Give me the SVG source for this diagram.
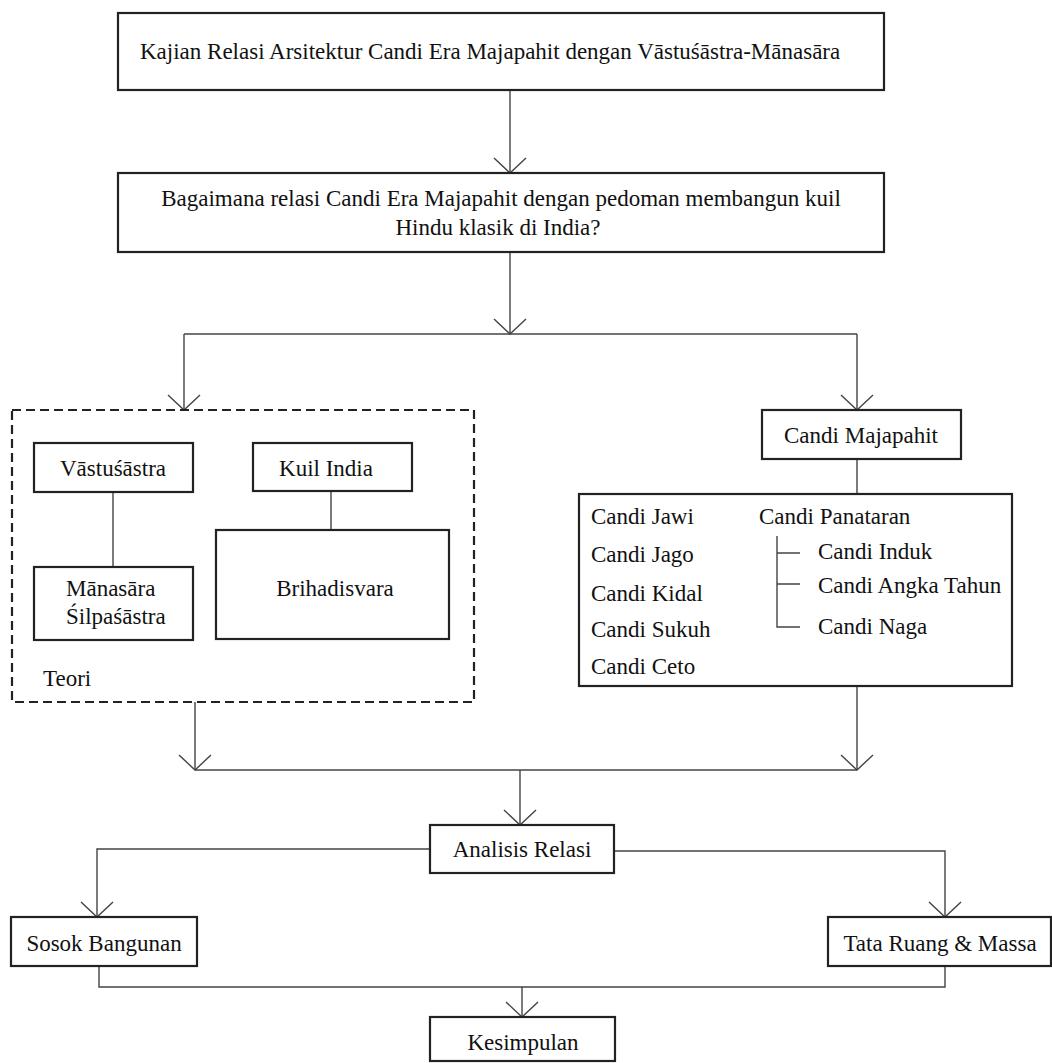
<svg xmlns="http://www.w3.org/2000/svg" width="1052" height="1063" viewBox="0 0 1052 1063">
<defs>
<style>
.t{font-family:"Liberation Serif","DejaVu Serif",serif;font-size:23px;fill:#111}
.box{fill:#fff;stroke:#222;stroke-width:2.2}
.dash{fill:none;stroke:#222;stroke-width:2.2;stroke-dasharray:9 5}
.c{fill:none;stroke:#444;stroke-width:1.4}
.m{text-anchor:middle}
</style>
<marker id="v" viewBox="-20 -20 40 40" markerUnits="userSpaceOnUse" markerWidth="40" markerHeight="40" refX="0" refY="0" orient="auto">
<path d="M-15,-16 L0,0 L-15,16" fill="none" stroke="#444" stroke-width="1.4"/>
</marker>
</defs>
<rect width="1052" height="1063" fill="#fff"/>
<g id="connectors">
<path class="c" d="M510,90 V173" marker-end="url(#v)"/>
<path class="c" d="M510,252 V334" marker-end="url(#v)"/>
<path class="c" d="M184,334 H857"/>
<path class="c" d="M184,334 V410" marker-end="url(#v)"/>
<path class="c" d="M857,334 V410" marker-end="url(#v)"/>
<path class="c" d="M113,492 V567"/>
<path class="c" d="M331,491 V530"/>
<path class="c" d="M857,459 V494"/>
<path class="c" d="M195,702 V770" marker-end="url(#v)"/>
<path class="c" d="M857,686 V770" marker-end="url(#v)"/>
<path class="c" d="M195,770 H857"/>
<path class="c" d="M520,770 V825" marker-end="url(#v)"/>
<path class="c" d="M430,849 H97 V917" marker-end="url(#v)"/>
<path class="c" d="M614,851 H945 V917" marker-end="url(#v)"/>
<path class="c" d="M99,966 V987 H945 V966"/>
<path class="c" d="M522,987 V1017" marker-end="url(#v)"/>
</g>
<g class="t" font-family="Liberation Serif, DejaVu Serif, serif">
<g id="title"><rect class="box" x="118" y="13" width="766" height="77"/><text x="140" y="59">Kajian Relasi Arsitektur Candi Era Majapahit dengan Vāstuśāstra-Mānasāra</text></g>
<g id="question"><rect class="box" x="118" y="173" width="766" height="79"/><text class="m" x="501" y="206">Bagaimana relasi Candi Era Majapahit dengan pedoman membangun kuil</text><text class="m" x="498" y="235">Hindu klasik di India?</text></g>
<g id="teori"><rect class="dash" x="12" y="410" width="462" height="292"/><text x="43" y="686">Teori</text></g>
<g id="vastusastra"><rect class="box" x="34" y="443" width="159" height="49"/><text class="m" x="113" y="476">Vāstuśāstra</text></g>
<g id="manasara"><rect class="box" x="34" y="567" width="159" height="73"/><text x="66" y="596">Mānasāra</text><text x="66" y="624">Śilpaśāstra</text></g>
<g id="kuil-india"><rect class="box" x="253" y="443" width="159" height="48"/><text class="m" x="326" y="476">Kuil India</text></g>
<g id="brihadisvara"><rect class="box" x="216" y="530" width="233" height="109"/><text class="m" x="335" y="596">Brihadisvara</text></g>
<g id="candi-majapahit"><rect class="box" x="762" y="410" width="199" height="49"/><text class="m" x="861" y="443">Candi Majapahit</text></g>
<g id="daftar-candi"><rect class="box" x="579" y="494" width="433" height="192"/>
<path class="c" d="M777,536 V627 H800 M777,553 H800 M777,584 H800"/>
<text x="591" y="524">Candi Jawi</text><text x="591" y="562">Candi Jago</text><text x="591" y="601">Candi Kidal</text><text x="591" y="637">Candi Sukuh</text><text x="591" y="674">Candi Ceto</text>
<text x="759" y="524">Candi Panataran</text><text x="818" y="559">Candi Induk</text><text x="818" y="593">Candi Angka Tahun</text><text x="818" y="634">Candi Naga</text></g>
<g id="analisis"><rect class="box" x="430" y="825" width="184" height="48"/><text class="m" x="522" y="857">Analisis Relasi</text></g>
<g id="sosok"><rect class="box" x="11" y="917" width="186" height="49"/><text class="m" x="104" y="951">Sosok Bangunan</text></g>
<g id="tata"><rect class="box" x="828" y="917" width="223" height="49"/><text class="m" x="940" y="951">Tata Ruang &amp; Massa</text></g>
<g id="kesimpulan"><rect class="box" x="430" y="1017" width="185" height="44"/><text class="m" x="523" y="1050">Kesimpulan</text></g>
</g>
</svg>
